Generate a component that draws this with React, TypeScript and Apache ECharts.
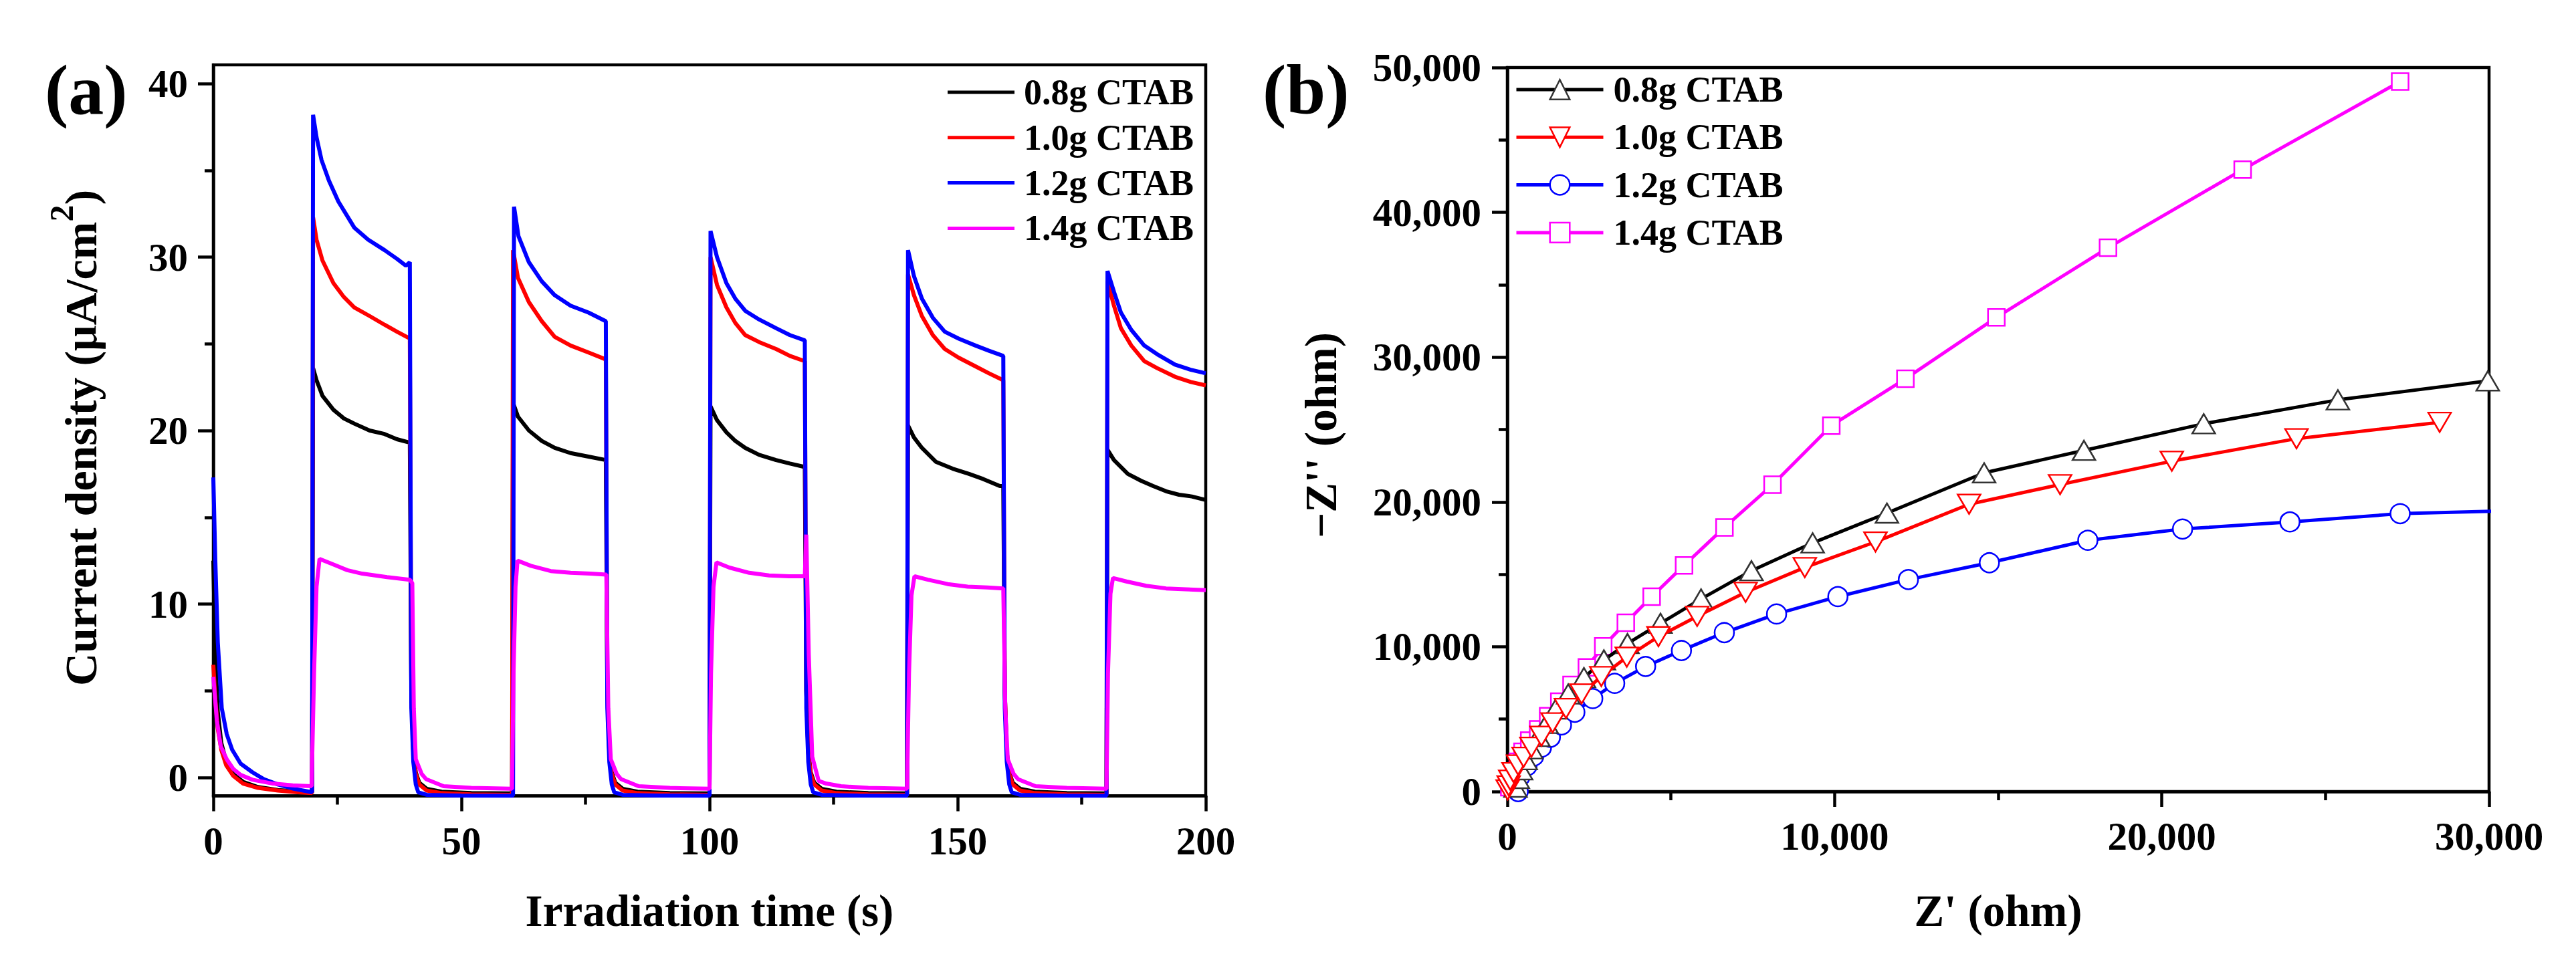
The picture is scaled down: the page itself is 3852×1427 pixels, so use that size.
import React, { useEffect, useRef } from 'react';
import * as echarts from 'echarts';

const FONT = "'Liberation Serif', 'Times New Roman', Times, serif";

// ---- legend / series names & colours
const seriesNames = ['0.8g CTAB', '1.0g CTAB', '1.2g CTAB', '1.4g CTAB'];
const seriesColors = ['#000000', '#ff0000', '#0000ff', '#ff00ff'];

// ---- panel (a) axes
const timeMin = 0;
const timeMax = 200;
const timeInterval = 50;
const currentMin = -1.06;
const currentMax = 41.08;
const currentTicks = [0, 10, 20, 30, 40];
const currentMinorTicks = [5, 15, 25, 35];

// ---- panel (b) axes
const zReMax = 30000;
const zImMax = 50000;
const zInterval = 10000;

// ---- panel (a): photocurrent density (µA/cm²) vs irradiation time (s)
const cur08 = [
  [0, 12.5], [0.4, 7.0], [0.9, 3.8], [1.6, 2.0], [2.6, 0.9], [4, 0.2], [6, -0.25], [9, -0.55], [13, -0.72], [17, -0.8], [19.9, -0.85],
  [20.1, 23.6], [20.8, 22.9], [22, 22.0], [24.2, 21.2], [26.3, 20.7], [28.4, 20.4], [31.5, 20.0], [34.5, 19.8], [37, 19.5], [39.6, 19.3],
  [39.9, 5.0], [40.3, 1.5], [40.8, 0.3], [41.5, -0.3], [43, -0.65], [46, -0.82], [52, -0.9], [60.2, -0.92],
  [60.4, 21.6], [61.4, 20.8], [63.6, 20.0], [66.2, 19.4], [68.8, 19.0], [72, 18.7], [75.6, 18.5], [79.1, 18.3],
  [79.4, 5.0], [79.8, 1.5], [80.3, 0.3], [81, -0.3], [82.5, -0.65], [85.5, -0.82], [92, -0.9], [100, -0.92],
  [100.2, 21.4], [101.5, 20.6], [103.4, 19.9], [105.2, 19.4], [107.2, 19.0], [110, 18.6], [113.4, 18.3], [116.2, 18.1], [119.2, 17.9],
  [119.5, 5.0], [119.9, 1.5], [120.4, 0.3], [121.1, -0.3], [122.6, -0.65], [125.6, -0.82], [132, -0.9], [139.8, -0.92],
  [140, 20.3], [141.2, 19.6], [142.8, 19.0], [145.6, 18.2], [149, 17.8], [152.3, 17.5], [155.2, 17.2], [158.5, 16.8], [159.2, 16.8],
  [159.5, 5.0], [159.9, 1.5], [160.4, 0.3], [161.1, -0.3], [162.6, -0.65], [165.6, -0.82], [172, -0.9], [180, -0.92],
  [180.2, 18.9], [181.5, 18.3], [184.3, 17.5], [187, 17.1], [189.4, 16.8], [192, 16.5], [194.6, 16.3], [197.2, 16.2], [200, 16.0],
];
const cur10 = [
  [0, 6.5], [0.4, 4.5], [0.9, 2.8], [1.6, 1.6], [2.6, 0.7], [4, 0.1], [6, -0.35], [9, -0.6], [13, -0.75], [17, -0.85], [19.9, -0.9],
  [20.1, 32.3], [20.8, 31.0], [22, 29.8], [24.2, 28.5], [26.3, 27.7], [28.4, 27.1], [31.5, 26.6], [34.5, 26.1], [37, 25.7], [39.6, 25.3],
  [39.9, 5.0], [40.3, 1.4], [40.8, 0.2], [41.5, -0.4], [43, -0.75], [46, -0.9], [52, -0.97], [60.2, -1.0],
  [60.4, 30.4], [61.4, 28.8], [63.6, 27.4], [66.2, 26.3], [68.8, 25.4], [72, 24.9], [75.6, 24.5], [79.1, 24.1],
  [79.4, 5.0], [79.8, 1.4], [80.3, 0.2], [81, -0.4], [82.5, -0.75], [85.5, -0.9], [92, -0.97], [100, -1.0],
  [100.2, 30.0], [101.5, 28.4], [103.4, 27.1], [105.2, 26.2], [107.2, 25.5], [110, 25.1], [113.4, 24.7], [116.2, 24.3], [119.2, 24.0],
  [119.5, 5.0], [119.9, 1.4], [120.4, 0.2], [121.1, -0.4], [122.6, -0.75], [125.6, -0.9], [132, -0.97], [139.8, -1.0],
  [140, 29.0], [141.2, 27.8], [142.8, 26.6], [145, 25.5], [147.4, 24.7], [150.2, 24.2], [153.6, 23.7], [156.3, 23.3], [159.2, 22.9],
  [159.5, 5.0], [159.9, 1.4], [160.4, 0.2], [161.1, -0.4], [162.6, -0.75], [165.6, -0.9], [172, -0.97], [180, -1.0],
  [180.2, 28.6], [181.5, 27.2], [182.9, 25.9], [185, 24.9], [187.6, 24.0], [190.2, 23.6], [193.8, 23.1], [197, 22.8], [200, 22.6],
];
const cur12 = [
  [0, 17.3], [0.4, 12.5], [0.9, 7.8], [1.7, 4.0], [2.7, 2.5], [3.8, 1.6], [5.5, 0.8], [7.9, 0.3], [10.2, -0.1], [13, -0.4], [16.2, -0.65], [19.9, -0.85],
  [20.1, 38.2], [20.8, 36.9], [21.8, 35.6], [23.3, 34.4], [25.2, 33.2], [28.4, 31.7], [31.2, 31.0], [34.5, 30.4], [37, 29.9], [38.8, 29.5], [39.6, 29.7],
  [39.9, 4.0], [40.3, 0.9], [40.8, -0.4], [41.3, -0.85], [43, -1.0], [50, -1.04], [60.4, -1.05],
  [60.6, 32.9], [61.5, 31.2], [63.6, 29.7], [66.2, 28.6], [68.8, 27.8], [72, 27.2], [75.6, 26.8], [79.1, 26.3],
  [79.4, 4.0], [79.8, 0.9], [80.3, -0.4], [80.8, -0.85], [82.5, -1.0], [90, -1.04], [100, -1.05],
  [100.2, 31.5], [101.5, 30.0], [103.4, 28.5], [105.2, 27.6], [107.2, 26.9], [110, 26.4], [113.4, 25.9], [116.2, 25.5], [119.2, 25.2],
  [119.5, 4.0], [119.9, 0.9], [120.4, -0.4], [120.9, -0.85], [122.6, -1.0], [130, -1.04], [139.8, -1.05],
  [140, 30.4], [141.2, 28.9], [142.8, 27.6], [145, 26.5], [147.4, 25.7], [150.2, 25.3], [153.6, 24.9], [156.3, 24.6], [159.2, 24.3],
  [159.5, 4.0], [159.9, 0.9], [160.4, -0.4], [160.9, -0.85], [162.6, -1.0], [170, -1.04], [180, -1.05],
  [180.2, 29.2], [181.5, 28.0], [182.9, 26.8], [185, 25.8], [187.6, 24.9], [190.2, 24.4], [193.8, 23.8], [197, 23.5], [200, 23.3],
];
const cur14 = [
  [0, 5.8], [0.7, 3.3], [1.5, 1.8], [2.7, 1.05], [4, 0.5], [5.5, 0.15], [7.9, -0.13], [12, -0.35], [16, -0.45], [19.8, -0.5],
  [20.3, 6.0], [20.8, 11.0], [21.4, 12.6], [24, 12.3], [27, 11.95], [30, 11.75], [35, 11.55], [39.6, 11.4],
  [40.1, 11.2], [40.4, 4.0], [40.8, 1.05], [42, 0.2], [42.9, -0.1], [46.4, -0.5], [52, -0.6], [60.2, -0.65],
  [60.5, 6.0], [60.9, 11.0], [61.3, 12.5], [64, 12.2], [68, 11.9], [72, 11.8], [76, 11.75], [79.2, 11.7],
  [79.6, 4.0], [80.1, 1.05], [81.3, 0.2], [82.2, -0.1], [85.7, -0.5], [92, -0.6], [100, -0.65],
  [100.3, 6.0], [100.8, 11.0], [101.4, 12.4], [104, 12.1], [108, 11.8], [112, 11.65], [116, 11.6], [119.2, 11.6],
  [119.5, 14.0], [120, 7.1], [120.7, 1.2], [122, -0.2], [123.5, -0.35], [126.5, -0.5], [132, -0.6], [139.8, -0.65],
  [140.2, 6.0], [140.7, 10.5], [141.3, 11.6], [144, 11.4], [148, 11.15], [152, 11.0], [156, 10.95], [159.2, 10.9],
  [159.6, 4.0], [160.1, 1.05], [161.3, 0.2], [162.2, -0.1], [165.7, -0.5], [172, -0.6], [180, -0.65],
  [180.3, 6.0], [180.8, 10.6], [181.3, 11.5], [184, 11.3], [188, 11.05], [192, 10.9], [196, 10.85], [200, 10.8],
];

// ---- panel (b): Nyquist plot, [Z' (ohm), -Z'' (ohm)]
const eis08 = [
  [250, 300], [320, 900], [420, 1500], [560, 2200], [730, 2950], [950, 3800], [1200, 4700], [1480, 5700],
  [1860, 6740], [2340, 7870], [2950, 9090], [3670, 10220], [4680, 11620], [5920, 13300], [7460, 15250],
  [9330, 17170], [11600, 19230], [14570, 22010], [17620, 23560], [21280, 25400], [25380, 27050], [29960, 28360],
];
const eis10 = [
  [10, 120], [40, 400], [89, 790], [191, 1310], [327, 1840], [497, 2370], [735, 3060], [1042, 3820],
  [1383, 4750], [1792, 5740], [2268, 6740], [2870, 7950], [3650, 9280], [4617, 10700], [5800, 12100],
  [7281, 13760], [9090, 15470], [11250, 17240], [14110, 19840], [16890, 21200], [20305, 22815], [24116, 24370], [28490, 25500],
];
const eis12 = [
  [330, 0], [390, 1060], [600, 1780], [805, 2450], [1043, 3060], [1315, 3750], [1655, 4600], [2063, 5480],
  [2610, 6420], [3280, 7470], [4225, 8640], [5320, 9740], [6630, 10975], [8227, 12260], [10100, 13460],
  [12255, 14640], [14730, 15800], [17738, 17350], [20633, 18130], [23914, 18620], [27283, 19190], [31500, 19450],
];
const eis14 = [
  [60, 300], [120, 800], [200, 1400], [320, 2050], [463, 2750], [668, 3520], [940, 4290], [1246, 5210],
  [1587, 6210], [1961, 7360], [2430, 8580], [2930, 10030], [3620, 11660], [4410, 13460], [5400, 15620],
  [6635, 18240], [8104, 21190], [9900, 25270], [12164, 28505], [14944, 32740], [18355, 37555], [22470, 42953], [27283, 49030],
];

const currentData = [cur08, cur10, cur12, cur14];
const eisData = [eis08, eis10, eis12, eis14];
const eisSymbols = ['triangle', 'triangle', 'circle', 'rect'];
const eisSymbolRotate = [0, 180, 0, 0];
const eisSymbolSize: any[] = [[34, 29], [34, 29], 29, 25];
const eisBorder = ['#333333', '#ff0000', '#0000ff', '#ff00ff'];
const eisZ = [4, 5, 3, 2];

const withCommas = (v: number) => String(Math.round(v)).replace(/\B(?=(\d{3})+(?!\d))/g, ',');

const tickLabel = { fontFamily: FONT, fontWeight: 'bold' as const, fontSize: 59, color: '#000' };
const axisLine = { show: true, onZero: false, lineStyle: { color: '#000', width: 4.5 } };
const majorTick = { show: true, inside: false, length: 23, lineStyle: { color: '#000', width: 4.5 } };
const minorTick = { show: true, splitNumber: 2, length: 13, lineStyle: { color: '#000', width: 4.5 } };
const legendText = { fontFamily: FONT, fontWeight: 'bold' as const, fontSize: 54, color: '#000', lineHeight: 55 };

function buildOption(): any {
  const seriesA = seriesNames.map((name, i) => ({
    name,
    type: 'line',
    xAxisIndex: 0,
    yAxisIndex: 0,
    data: currentData[i],
    symbol: 'none',
    showSymbol: false,
    clip: true,
    lineStyle: { color: seriesColors[i], width: 6 },
    itemStyle: { color: seriesColors[i] },
    z: 2 + i,
  }));
  const seriesB = seriesNames.map((name, i) => ({
    name: 'b:' + name,
    type: 'line',
    xAxisIndex: 1,
    yAxisIndex: 2,
    data: eisData[i],
    symbol: eisSymbols[i],
    symbolRotate: eisSymbolRotate[i],
    symbolSize: eisSymbolSize[i],
    showSymbol: true,
    showAllSymbol: true,
    clip: true,
    lineStyle: { color: seriesColors[i], width: 5 },
    itemStyle: { color: '#ffffff', borderColor: eisBorder[i], borderWidth: 2.5 },
    z: eisZ[i],
  }));

  return {
    animation: false,
    backgroundColor: '#ffffff',
    grid: [
      { left: 319, top: 97, width: 1484, height: 1093.5, show: true, borderColor: '#000', borderWidth: 4.5, backgroundColor: 'transparent', containLabel: false, outerBoundsMode: 'none' },
      { left: 2254, top: 101, width: 1468, height: 1083, show: true, borderColor: '#000', borderWidth: 4.5, backgroundColor: 'transparent', containLabel: false, outerBoundsMode: 'none' },
    ],
    xAxis: [
      {
        gridIndex: 0, type: 'value', min: timeMin, max: timeMax, interval: timeInterval, position: 'bottom',
        axisLine, axisTick: majorTick, minorTick,
        axisLabel: { ...tickLabel, margin: 38 },
        splitLine: { show: false }, minorSplitLine: { show: false },
      },
      {
        gridIndex: 1, type: 'value', min: 0, max: zReMax, interval: zInterval, position: 'bottom',
        axisLine, axisTick: majorTick, minorTick,
        axisLabel: { ...tickLabel, margin: 37, formatter: (v: number) => withCommas(v) },
        splitLine: { show: false }, minorSplitLine: { show: false },
      },
    ],
    yAxis: [
      {
        gridIndex: 0, type: 'value', min: currentMin, max: currentMax, position: 'left',
        axisLine, axisTick: { ...majorTick, customValues: currentTicks },
        axisLabel: { ...tickLabel, margin: 38, customValues: currentTicks },
        splitLine: { show: false },
      },
      {
        gridIndex: 0, type: 'value', min: currentMin, max: currentMax, position: 'left',
        axisLine: { show: false },
        axisTick: { show: true, inside: false, length: 13, lineStyle: { color: '#000', width: 4.5 }, customValues: currentMinorTicks },
        axisLabel: { show: false },
        splitLine: { show: false },
      },
      {
        gridIndex: 1, type: 'value', min: 0, max: zImMax, interval: zInterval, position: 'left',
        axisLine, axisTick: majorTick, minorTick,
        axisLabel: { ...tickLabel, margin: 39, formatter: (v: number) => withCommas(v) },
        splitLine: { show: false }, minorSplitLine: { show: false },
      },
    ],
    legend: [
      {
        orient: 'vertical', left: 1412, top: 105.5, itemWidth: 100, itemHeight: 5, itemGap: 12.8,
        icon: 'rect',
        selectedMode: false, data: seriesNames,
        textStyle: { ...legendText, padding: [0, 0, 0, 9] },
      },
      {
        orient: 'vertical', left: 2260, top: 101.5, itemWidth: 130, itemHeight: 37, itemGap: 16.3,
        selectedMode: false, data: seriesNames.map((n) => 'b:' + n),
        formatter: (n: string) => n.slice(2),
        lineStyle: { width: 5 },
        itemStyle: { borderWidth: 2.5 },
        textStyle: { ...legendText, padding: [0, 0, 0, 10] },
      },
    ],
    graphic: {
      elements: [
        {
          type: 'text', x: 67, y: 134,
          style: { text: '(a)', fontFamily: FONT, fontWeight: 'bold', fontSize: 106, fill: '#000', align: 'left', verticalAlign: 'middle', textAlign: 'left', textVerticalAlign: 'middle' },
        },
        {
          type: 'text', x: 1888, y: 134,
          style: { text: '(b)', fontFamily: FONT, fontWeight: 'bold', fontSize: 106, fill: '#000', align: 'left', verticalAlign: 'middle', textAlign: 'left', textVerticalAlign: 'middle' },
        },
        {
          type: 'text', x: 1061, y: 1362,
          style: { text: 'Irradiation time (s)', fontFamily: FONT, fontWeight: 'bold', fontSize: 67, fill: '#000', align: 'center', verticalAlign: 'middle', textAlign: 'center', textVerticalAlign: 'middle' },
        },
        {
          type: 'text', x: 2988, y: 1362,
          style: { text: "Z' (ohm)", fontFamily: FONT, fontWeight: 'bold', fontSize: 67, fill: '#000', align: 'center', verticalAlign: 'middle', textAlign: 'center', textVerticalAlign: 'middle' },
        },
        {
          type: 'text', x: 121, y: 655, rotation: Math.PI / 2,
          style: {
            text: '{m|Current density (μA/cm}{s|2}{m|)}',
            fill: '#000', fontFamily: FONT, fontWeight: 'bold', fontSize: 68,
            align: 'center', verticalAlign: 'middle', textAlign: 'center', textVerticalAlign: 'middle',
            rich: {
              m: { fontFamily: FONT, fontWeight: 'bold', fontSize: 68, lineHeight: 108, fill: '#000', color: '#000' },
              s: { fontFamily: FONT, fontWeight: 'bold', fontSize: 50, lineHeight: 50, verticalAlign: 'top', fill: '#000', color: '#000' },
            },
          },
        },
        {
          type: 'text', x: 1975, y: 651, rotation: Math.PI / 2,
          style: { text: "\u2212Z'' (ohm)", fontFamily: FONT, fontWeight: 'bold', fontSize: 67, fill: '#000', align: 'center', verticalAlign: 'middle', textAlign: 'center', textVerticalAlign: 'middle' },
        },
      ],
    },
    series: [...seriesA, ...seriesB],
  };
}

export default function App() {
  const ref = useRef<HTMLDivElement>(null);
  useEffect(() => {
    if (!ref.current) return;
    const chart = echarts.init(ref.current, undefined, { renderer: 'svg' });
    chart.setOption(buildOption());
    return () => {
      chart.dispose();
    };
  }, []);
  return (
    <div
      ref={ref}
      style={{ position: 'absolute', left: 0, top: 0, width: 3852, height: 1427, background: '#fff' }}
    />
  );
}
